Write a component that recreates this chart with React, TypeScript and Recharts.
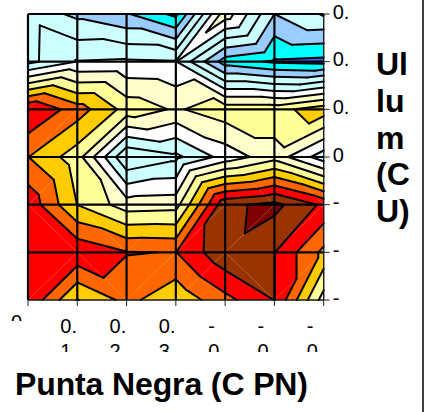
import { ComposedChart, ReferenceArea, ReferenceLine, Scatter, XAxis, YAxis } from "recharts";

// z value of every grid node (top row first)
const row0 = [3.67, 2.75, 2.1, 0.73, 6.6, 3.0, 4.1];
const row1 = [3.7, 5.05, 5.13, 5.05, 1.5, 0.85, 0.7];
const row2 = [11.02, 9.5, 7.65, 6.87, 7.6, 7.6, 8.6];
const row3 = [9.02, 7.45, 3.05, 3.75, 5.4, 6.6, 4.43];
const row4 = [10.7, 7.98, 6.5, 6.6, 11.75, 12.3, 10.8];
const row5 = [10.5, 10.8, 10.05, 9.97, 11.8, 11.02, 8.75];
const row6 = [10.85, 7.95, 9.3, 8.25, 9.68, 11.02, 6.55];
const zRows = [row0, row1, row2, row3, row4, row5, row6];

// which way each cell is split into two triangles
const splitRows = [
  ["\\", "\\", "\\", "/", "\\", "/"],
  ["/", "/", "/", "\\", "\\", "/"],
  ["/", "/", "\\", "\\", "\\", "/"],
  ["/", "\\", "/", "\\", "\\", "\\"],
  ["\\", "\\", "/", "/", "/", "/"],
  ["/", "\\", "/", "/", "\\", "/"],
];

// one colour per contour band, coldest first
const bandColors = [
  "#3366FF", "#00FFFF", "#99CCFF", "#CCFFFF", "#CCFFFF", "#FFFFFF", "#FFFFCC",
  "#FFFF99", "#FFCC00", "#FF6600", "#FF0000", "#993300", "#800000",
];

const xTickLines = [["0"], ["0.", "1"], ["0.", "2"], ["0.", "3"], ["-", "0"], ["-", "0"], ["-", "0"]];
const yTickLabels = ["0.", "0.", "0.", "0", "-", "-", "-"];
const yTitleLines = ["Ul", "lu", "m", "(C", "U)"];
const gridTicks = [0, 1, 2, 3, 4, 5, 6];

const FONT = "'Liberation Sans', Arial, sans-serif";

const nodes = zRows.flatMap((row, r) => row.map((z, c) => ({ col: c, row: r, z })));

type V = { x: number; y: number; z: number };

// Sutherland-Hodgman against one z level
function clip(poly: V[], level: number, above: boolean) {
  const out: V[] = [];
  poly.forEach((p, i) => {
    const q = poly[(i + 1) % poly.length];
    const pIn = above ? p.z >= level : p.z <= level;
    const qIn = above ? q.z >= level : q.z <= level;
    if (pIn) out.push(p);
    if (pIn !== qIn) {
      const t = (level - p.z) / (q.z - p.z);
      out.push({ x: p.x + (q.x - p.x) * t, y: p.y + (q.y - p.y) * t, z: level });
    }
  });
  return out;
}

function levelSegment(tri: V[], level: number) {
  const pts: V[] = [];
  tri.forEach((p, i) => {
    const q = tri[(i + 1) % 3];
    if (p.z < level !== q.z < level) {
      const t = (level - p.z) / (q.z - p.z);
      pts.push({ x: p.x + (q.x - p.x) * t, y: p.y + (q.y - p.y) * t, z: level });
    }
  });
  return pts.length === 2 ? pts : null;
}

function cellShape(c: number, r: number) {
  return (props: any) => {
    const { x, y, width, height } = props;
    const a = { x, y, z: zRows[r][c] };
    const b = { x: x + width, y, z: zRows[r][c + 1] };
    const d = { x, y: y + height, z: zRows[r + 1][c] };
    const e = { x: x + width, y: y + height, z: zRows[r + 1][c + 1] };
    const tris = splitRows[r][c] === "\\" ? [[a, b, e], [a, e, d]] : [[a, b, d], [b, e, d]];
    return (
      <g>
        {tris.map((tri, t) =>
          bandColors.map((color, k) => {
            let poly: V[] = tri;
            if (k > 0) poly = clip(poly, k, true);
            if (k < bandColors.length - 1 && poly.length) poly = clip(poly, k + 1, false);
            if (poly.length < 3) return null;
            return <polygon key={`${t}-${k}`} points={poly.map((p) => `${p.x},${p.y}`).join(" ")} fill={color} />;
          })
        )}
        {tris.map((tri, t) =>
          bandColors.slice(1).map((_, k) => {
            const seg = levelSegment(tri, k + 1);
            if (!seg) return null;
            return (
              <line key={`${t}-${k}`} x1={seg[0].x} y1={seg[0].y} x2={seg[1].x} y2={seg[1].y}
                stroke="#000" strokeWidth={2} strokeLinecap="round" />
            );
          })
        )}
      </g>
    );
  };
}

const cells = splitRows.flatMap((row, r) => row.map((_, c) => ({ c, r })));

function XTick(props: any) {
  const { x, payload } = props;
  const i = payload.value;
  const first = i === 0;
  const left = x - 17;
  const clipId = `xclip${i}`;
  return (
    <g>
      <clipPath id={clipId}>
        <rect x={left - 2} y={first ? 310 : 314} width={40} height={first ? 11 : 38} />
      </clipPath>
      <g clipPath={`url(#${clipId})`}>
        {xTickLines[i].map((t, n) => (
          <text key={n} x={left} y={(first ? 329 : 333) + n * 25} fontSize={20} fontFamily={FONT} fill="#000">
            {t}
          </text>
        ))}
      </g>
    </g>
  );
}

function YTick(props: any) {
  const { x, y, payload } = props;
  return (
    <text x={x + 1} y={y + 4.5} fontSize={20} fontFamily={FONT} fill="#000">
      {yTickLabels[payload.value]}
    </text>
  );
}

export default function App() {
  return (
    <div style={{ position: "absolute", left: 0, top: 0, width: 430, height: 412, background: "#fff" }}>
      <ComposedChart width={430} height={412} margin={{ top: 14, right: 46.3, bottom: 72, left: 28 }}>
        <XAxis
          type="number"
          dataKey="col"
          domain={[0, 6]}
          ticks={gridTicks}
          interval={0}
          height={40}
          tick={<XTick />}
          tickSize={6}
          stroke="#222"
        />
        <YAxis
          type="number"
          dataKey="row"
          domain={[0, 6]}
          ticks={gridTicks}
          interval={0}
          reversed
          orientation="right"
          width={60}
          tick={<YTick />}
          tickSize={6}
          stroke="#222"
        />
        {cells.map(({ c, r }) => (
          <ReferenceArea key={`${c}-${r}`} x1={c} x2={c + 1} y1={r} y2={r + 1} shape={cellShape(c, r)} />
        ))}
        {gridTicks.map((t) => (
          <ReferenceLine key={`v${t}`} x={t} stroke="#000" strokeWidth={t === 6 ? 1.2 : 2.2} />
        ))}
        {gridTicks.map((t) => (
          <ReferenceLine key={`h${t}`} y={t} stroke="#000" strokeWidth={t === 6 ? 1.2 : 2.2} />
        ))}
        <Scatter data={nodes} fill="none" isAnimationActive={false} />
        <text x={15} y={395} fontSize={32} fontWeight="bold" fontFamily={FONT} fill="#000" textLength={293}>
          Punta Negra (C PN)
        </text>
        {yTitleLines.map((t, i) => (
          <text key={t} x={376} y={75 + i * 36.8} fontSize={32} fontWeight="bold" fontFamily={FONT} fill="#000">
            {t}
          </text>
        ))}
        <line x1={423} y1={0} x2={423} y2={412} stroke="#000" strokeWidth={1.5} />
      </ComposedChart>
    </div>
  );
}
